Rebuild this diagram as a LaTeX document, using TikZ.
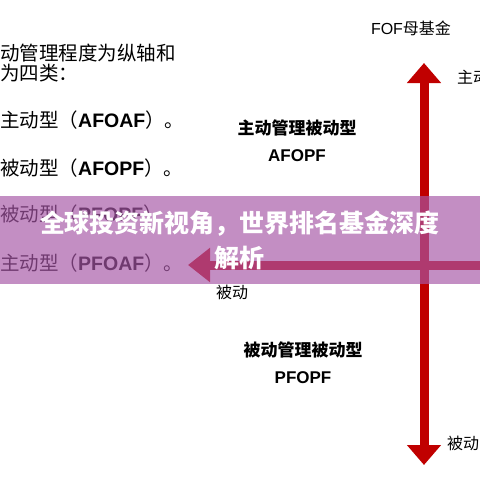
\documentclass[tikz,border=0pt]{standalone}
\usepackage{fontspec}
\newfontfamily\cjk{Noto Sans CJK SC}
\newfontfamily\lat{Liberation Sans}
\usetikzlibrary{arrows.meta}
\definecolor{axisred}{RGB}{192,0,0}
\definecolor{banner}{RGB}{167,87,167}
\tikzset{
  axis/.style={draw=axisred,line width=9pt,{Triangle[width=33pt,length=20pt]}-{Triangle[width=33pt,length=20pt]}},
  body/.style={anchor=west,inner sep=0pt,font=\cjk\fontsize{19.5}{22}\selectfont},
  quad/.style={inner sep=0pt,align=center,font=\cjk\bfseries\fontsize{17}{27}\selectfont},
  tag/.style={inner sep=0pt,font=\cjk\fontsize{16}{18}\selectfont},
  headline/.style={inner sep=0pt,align=center,text=white,font=\cjk\bfseries\fontsize{25}{35}\selectfont}
}
\begin{document}
\begin{tikzpicture}[x=1pt,y=-1pt]
\useasboundingbox (0,0) rectangle (480,480);
\clip (0,0) rectangle (480,480);
\fill[white] (0,0) rectangle (480,480);
% axes
\coordinate (top) at (424,63);
\coordinate (bot) at (424,465);
\coordinate (east) at (490,265);
\coordinate (west) at (188,265);
\draw[axis] (top) -- (bot);
\draw[draw=axisred,line width=9pt,-{Triangle[width=33pt,length=22pt]}] (east) -- (west);
% axis labels
\node[tag] (fof) at (411,28) {{\lat FOF}母基金};
\node[tag,anchor=west] (act) at (457,77) {主动};
\node[tag] (pasw) at (232,292) {被动};
\node[tag,anchor=west] (pass) at (447,443) {被动};
% quadrants
\node[quad] (q1) at (297,141) {主动管理被动型\\{\lat\bfseries AFOPF}};
\node[quad] (q3) at (303,363) {被动管理被动型\\{\lat\bfseries PFOPF}};
% left text
\node[body] (l1) at (0,53) {动管理程度为纵轴和};
\node[body] (l2) at (0,73) {为四类：};
\node[body] (l3) at (0,120) {主动型（{\lat\bfseries AFOAF}）。};
\node[body] (l4) at (0,168) {被动型（{\lat\bfseries AFOPF}）。};
\node[body] (l5) at (0,214) {被动型（{\lat\bfseries PFOPF}）};
\node[body] (l6) at (0,263) {主动型（{\lat\bfseries PFOAF}）。};
% banner
\fill[banner,fill opacity=0.67] (0,196) rectangle (480,284);
\node[headline] (title) at (240,240) {全球投资新视角，世界排名基金深度\\解析};
\end{tikzpicture}
\end{document}
